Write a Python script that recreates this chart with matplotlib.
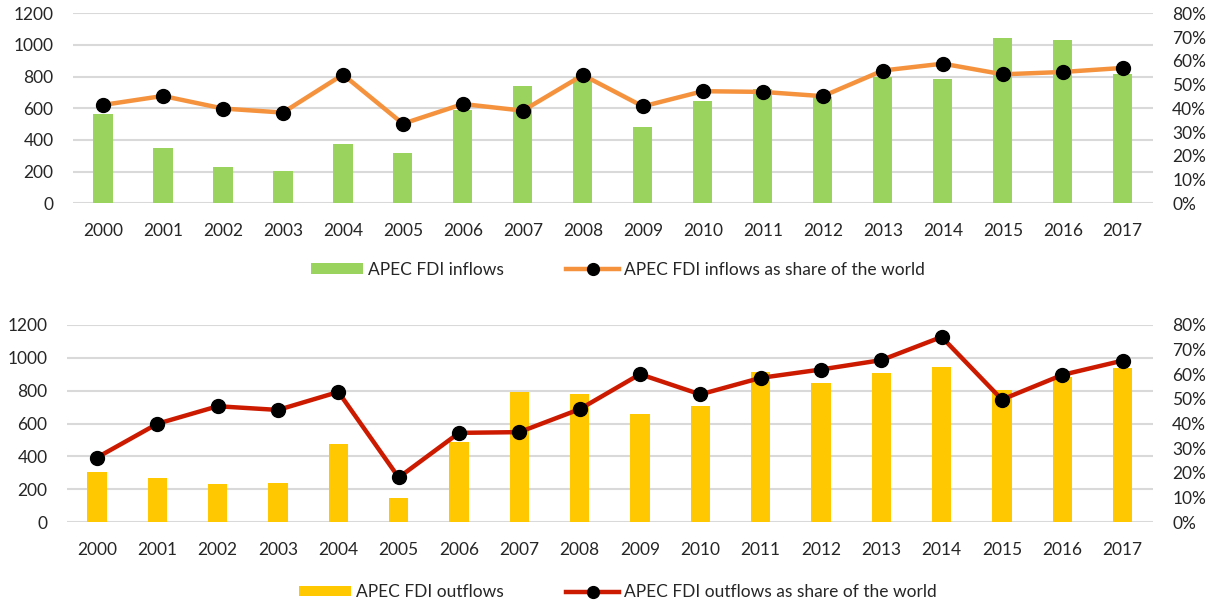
import matplotlib
matplotlib.use("Agg")
import matplotlib.pyplot as plt
from matplotlib.ticker import FuncFormatter

plt.rcParams['font.family'] = ['Lato', 'DejaVu Sans']

years = [str(y) for y in range(2000, 2018)]

inflows = [566, 347, 232, 206, 375, 318, 587, 743, 795, 480, 648, 725,
           670, 800, 783, 1042, 1031, 819]
inflow_share = [41.4, 45.2, 39.9, 38.2, 54.2, 33.5, 41.8, 39.0, 54.0, 40.8,
                47.2, 46.9, 45.1, 55.9, 58.8, 54.3, 55.3, 57.0]

outflows = [302, 270, 231, 241, 478, 146, 487, 789, 780, 657, 706, 916,
            845, 908, 944, 803, 880, 937]
outflow_share = [26.2, 39.9, 47.0, 45.5, 52.8, 18.1, 36.2, 36.5, 45.8, 60.0,
                 51.8, 58.5, 61.9, 65.7, 75.1, 49.7, 59.7, 65.5]

GRID = "#d9d9d9"
TXT = "#262626"


def panel(rect, bars, share, bar_color, line_color, bar_label, line_label, legend_y):
    ax = fig.add_axes(rect)
    x = range(len(years))
    b = ax.bar(x, bars, width=0.32, color=bar_color, label=bar_label, zorder=2)
    ax.set_xlim(-0.5, len(years) - 0.5)
    ax.set_ylim(0, 1200)
    ax.set_yticks(range(0, 1201, 200))
    ax.set_xticks(list(x))
    ax.set_xticklabels(years)
    ax.grid(axis="y", color=GRID, linewidth=1.5, zorder=0)
    ax.set_axisbelow(True)
    for s in ax.spines.values():
        s.set_visible(False)
    ax.tick_params(axis="y", length=0, pad=14, labelsize=12.5, labelcolor=TXT)
    ax.tick_params(axis="x", length=0, pad=14, labelsize=12.5, labelcolor=TXT)

    ax2 = ax.twinx()
    ln, = ax2.plot(x, share, color=line_color, linewidth=3.2, marker="o",
                   markersize=10, markerfacecolor="black", markeredgecolor="black",
                   label=line_label, zorder=3)
    ax2.set_ylim(0, 80)
    ax2.set_yticks(range(0, 81, 10))
    ax2.yaxis.set_major_formatter(FuncFormatter(lambda v, p: f"{int(v)}%"))
    for s in ax2.spines.values():
        s.set_visible(False)
    ax2.tick_params(axis="y", length=0, pad=14, labelsize=12.5, labelcolor=TXT)

    fig.legend([b, ln], [bar_label, line_label], loc="center",
               bbox_to_anchor=(0.508, legend_y), ncol=2, frameon=False,
               fontsize=12.5, handlelength=3.0, handleheight=0.55,
               handletextpad=0.3, columnspacing=3.6, markerscale=0.85,
               labelcolor=TXT)


fig = plt.figure(figsize=(12.16, 6.05), dpi=100)

panel([0.060, 0.664, 0.888, 0.314], inflows, inflow_share, "#9bd35f", "#f4923e",
      "APEC FDI inflows", "APEC FDI inflows as share of the world", 0.554)
panel([0.055, 0.137, 0.893, 0.326], outflows, outflow_share, "#ffc800", "#cc1a00",
      "APEC FDI outflows", "APEC FDI outflows as share of the world", 0.021)

fig.savefig("out.png", dpi=100)
